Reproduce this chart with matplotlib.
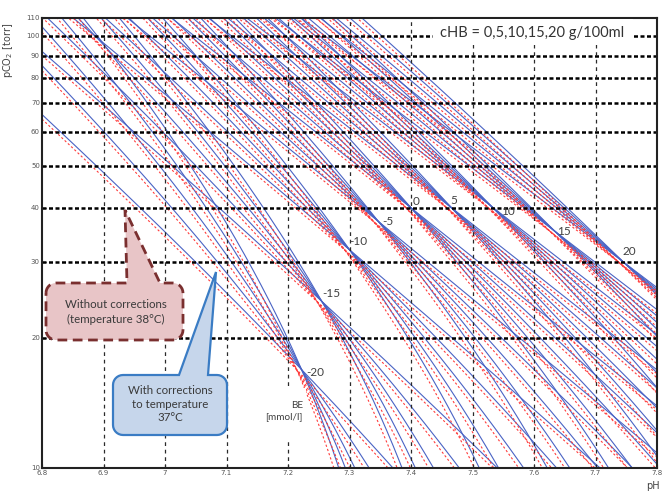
import numpy as np
import matplotlib
matplotlib.use("Agg")
import matplotlib.pyplot as plt
from matplotlib.patches import Polygon, Rectangle
from matplotlib.ticker import FixedLocator, NullLocator, FixedFormatter

# ---------------- data ----------------
BE_LEVELS = [-20, -15, -10, -5, 0, 5, 10, 15, 20]             # mmol/l
# fan crossing points (pH, pCO2) of each BE family
CROSS_PH = [7.222, 7.255, 7.300, 7.347, 7.400, 7.466, 7.531, 7.634, 7.745]
CROSS_PCO2 = [16.9, 24.3, 32.0, 37.2, 40.0, 40.0, 40.3, 35.3, 30.0]
HB_LEVELS = [0, 5, 10, 15, 20]                                 # g/100ml
# label anchors for BE values
LABEL_PH = [7.244, 7.271, 7.314, 7.362, 7.408, 7.469, 7.558, 7.648, 7.755]
LABEL_PCO2 = [16.6, 25.4, 33.4, 37.2, 41.3, 41.7, 39.2, 35.2, 31.7]
X_TICKS = [6.8, 6.9, 7.0, 7.1, 7.2, 7.3, 7.4, 7.5, 7.6, 7.7, 7.8]
X_TICK_LABELS = ["6.8", "6.9", "7", "7.1", "7.2", "7.3", "7.4", "7.5", "7.6", "7.7", "7.8"]
Y_TICKS = [10, 20, 30, 40, 50, 60, 70, 80, 90, 100, 110]
Y_GRID = [20, 30, 40, 50, 60, 70, 80, 90, 100]

# Van Slyke / Henderson-Hasselbalch constants
PK = 6.1
SOL = 0.0307
RED_PH_SHIFT = -0.008     # uncorrected (38 C) family

W, H = 668, 493
fig = plt.figure(figsize=(W / 100, H / 100), dpi=100)
L, R, T, B = 42, 657, 18, 468
ax = fig.add_axes([L / W, 1 - B / H, (R - L) / W, (B - T) / H])

def px(x, y):
    return (x / W, 1 - y / H)

ph = np.linspace(6.8, 7.8, 600)

def line_pco2(ph_c, pco2_c, hb, shift=0.0):
    hco3_c = SOL * pco2_c * 10 ** (ph_c - PK)
    beta = 7.7 + 1.43 * hb
    p = ph - shift
    hco3 = hco3_c - beta * (p - ph_c)
    pc = hco3 / (SOL * 10 ** (p - PK))
    pc = np.where(hco3 > 0, pc, np.nan)
    return pc

for phc, pcc in zip(CROSS_PH, CROSS_PCO2):
    for hb in HB_LEVELS:
        ax.plot(ph, line_pco2(phc, pcc, hb), color="#4a63c4", lw=0.8, zorder=2)
for phc, pcc in zip(CROSS_PH, CROSS_PCO2):
    for hb in HB_LEVELS:
        ax.plot(ph, line_pco2(phc, pcc, hb, RED_PH_SHIFT), color="#ff3a3a",
                lw=0.8, ls=(0, (2, 2)), zorder=3)

ax.set_yscale("log")
ax.set_xlim(6.8, 7.8)
ax.set_ylim(10, 110)

# grid
for g in Y_GRID:
    ax.axhline(g, color="black", lw=1.8, ls=(0, (1.6, 1.0)), zorder=4)
for g in X_TICKS[1:-1]:
    ax.axvline(g, color="#2a2a2a", lw=0.9, ls=(0, (3, 3)), zorder=4)

ax.xaxis.set_major_locator(FixedLocator(X_TICKS))
ax.xaxis.set_major_formatter(FixedFormatter(X_TICK_LABELS))
ax.yaxis.set_major_locator(FixedLocator(Y_TICKS))
ax.yaxis.set_major_formatter(FixedFormatter([str(v) for v in Y_TICKS]))
ax.yaxis.set_minor_locator(NullLocator())
ax.xaxis.set_minor_locator(NullLocator())
ax.tick_params(direction="in", length=3, width=0.8, labelsize=5,
               labelcolor="#555555", pad=1.5)
for s in ax.spines.values():
    s.set_linewidth(1.5)
    s.set_color("#222222")
    s.set_zorder(6)

# BE labels
for be, lx, ly in zip(BE_LEVELS, LABEL_PH, LABEL_PCO2):
    ax.text(lx, ly, f"{be}", fontsize=8.5, color="#404040", ha="center",
            va="center", family="Lato", zorder=7)

# BE unit label with white background
fig.patches.append(Rectangle(px(262, 440), 44 / W, 52 / H, transform=fig.transFigure,
                             facecolor="white", edgecolor="none", zorder=5))
fig.text(*px(303, 411), "BE\n[mmol/l]", fontsize=7.2, color="#404040", ha="right",
         va="center", family="Lato", linespacing=1.25, zorder=8)

# cHB box
fig.patches.append(Rectangle(px(433, 45), 200 / W, 26 / H, transform=fig.transFigure,
                             facecolor="white", edgecolor="none", zorder=5))
fig.text(*px(532, 33), "cHB = 0,5,10,15,20 g/100ml", fontsize=10.5, color="#333333",
         ha="center", va="center", family="Lato", zorder=8)

def callout(x0, y0, x1, y1, r, bl, br, tip):
    pts = []
    def arc(cx, cy, a0, a1):
        for a in np.linspace(a0, a1, 8):
            pts.append((cx + r * np.cos(a), cy + r * np.sin(a)))
    arc(x0 + r, y0 + r, np.pi, 1.5 * np.pi)
    pts.append((bl, y0))
    pts.append(tip)
    pts.append((br, y0))
    arc(x1 - r, y0 + r, 1.5 * np.pi, 2 * np.pi)
    arc(x1 - r, y1 - r, 0, 0.5 * np.pi)
    arc(x0 + r, y1 - r, 0.5 * np.pi, np.pi)
    return [px(x, y) for x, y in pts]

red_poly = Polygon(callout(46, 283, 183, 340, 10, 127, 160, (125, 210)), closed=True,
                   transform=fig.transFigure, facecolor="#e8c5c7", edgecolor="#7a2f2f",
                   lw=2.0, ls=(0, (3.5, 2)), zorder=9)
fig.patches.append(red_poly)
fig.text(*px(116, 312), "Without corrections\n(temperature 38°C)", fontsize=8.3,
         color="#3a3a3a", ha="center", va="center", family="Lato",
         linespacing=1.35, zorder=10)

blue_poly = Polygon(callout(113, 375, 227, 435, 10, 179, 208, (216, 272)), closed=True,
                    transform=fig.transFigure, facecolor="#c6d6eb", edgecolor="#3a7cc4",
                    lw=1.6, zorder=9)
fig.patches.append(blue_poly)
fig.text(*px(170, 404), "With corrections\nto temperature\n37°C", fontsize=8.3,
         color="#3a3a3a", ha="center", va="center", family="Lato",
         linespacing=1.3, zorder=10)

fig.text(*px(8, 50), "pCO$_2$ [torr]", fontsize=7, color="#444444", rotation=90,
         ha="center", va="center")
fig.text(*px(653, 486), "pH", fontsize=7, color="#444444", ha="center", va="center")

fig.savefig("out.png", dpi=100)
